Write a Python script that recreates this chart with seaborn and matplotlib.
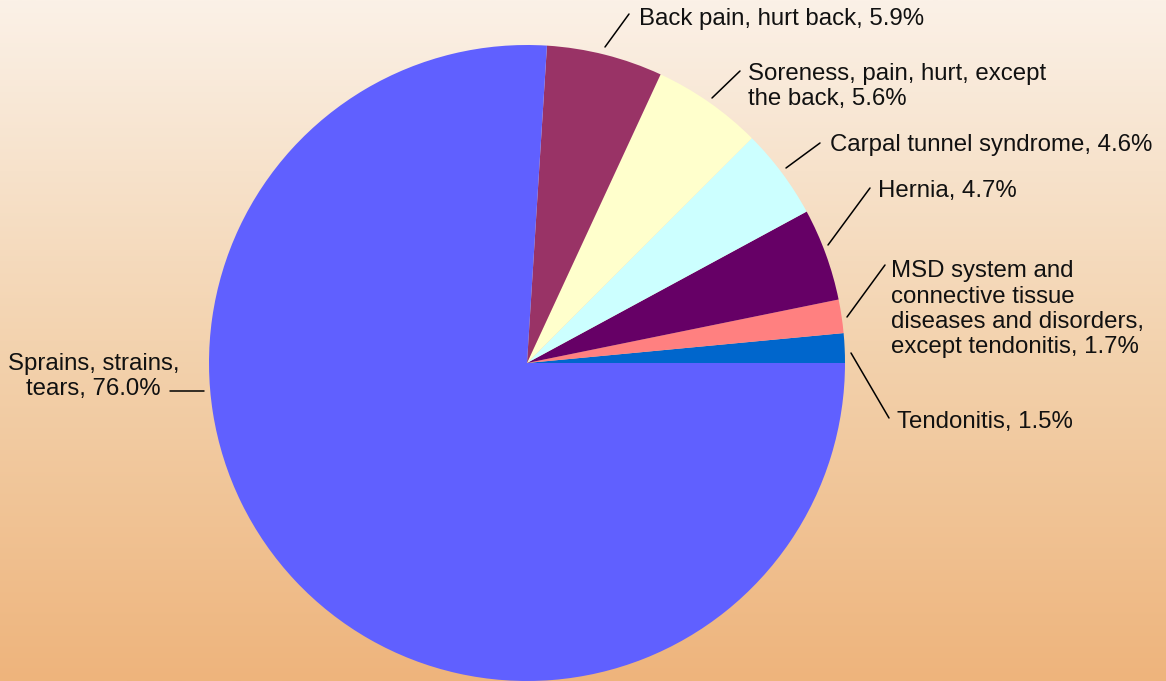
import numpy as np
import matplotlib
matplotlib.use("Agg")
import matplotlib.pyplot as plt
import seaborn as sns
from matplotlib.colors import LinearSegmentedColormap

# ---- data ----
categories = [
    "Tendonitis",
    "MSD system and\nconnective tissue\ndiseases and disorders,\nexcept tendonitis",
    "Hernia",
    "Carpal tunnel syndrome",
    "Soreness, pain, hurt, except\nthe back",
    "Back pain, hurt back",
    "Sprains, strains,\ntears",
]
values = [1.5, 1.7, 4.7, 4.6, 5.6, 5.9, 76.0]
colors = ["#0066CC", "#FF8080", "#660066", "#CCFFFF", "#FFFFCC", "#993366", "#6060FF"]

# ---- layout (pixel coords, y down): text anchor (last-line baseline), leader start, leader end ----
label_layout = [
    dict(tx=897, ty=428, ha="left", ls=(851, 353), le=(889, 418)),
    dict(tx=891, ty=353, ha="left", ls=(847, 317), le=(885, 265)),
    dict(tx=878, ty=197, ha="left", ls=(828, 245), le=(870, 188)),
    dict(tx=830, ty=151, ha="left", ls=(786, 168), le=(820, 143)),
    dict(tx=748, ty=105, ha="left", ls=(712, 98), le=(740, 71)),
    dict(tx=639, ty=25, ha="left", ls=(605, 47), le=(629, 14)),
    dict(tx=179, ty=395, ha="right", ls=(204, 391), le=(170, 391)),
]

W, H = 1166, 681
sns.set_style("white")
plt.rcParams["font.family"] = ["Liberation Sans", "DejaVu Sans"]

fig = plt.figure(figsize=(W / 100, H / 100), dpi=100)

# background gradient
bg = fig.add_axes([0, 0, 1, 1])
cmap = LinearSegmentedColormap.from_list("bg", ["#FBF1E7", "#F3D3AF", "#EEB47C"])
grad = np.linspace(0, 1, 256).reshape(-1, 1)
bg.imshow(grad, aspect="auto", cmap=cmap, extent=[0, 1, 0, 1], origin="upper")
bg.set_axis_off()

ax = fig.add_axes([0, 0, 1, 1])
ax.set_facecolor("none")
ax.patch.set_alpha(0)

ax.pie(values, colors=colors, startangle=0, counterclock=False,
       center=(527, 363), radius=318,
       wedgeprops=dict(linewidth=0, antialiased=True))
ax.set_xlim(0, W)
ax.set_ylim(H, 0)
ax.set_aspect("equal")
ax.set_axis_off()

for cat, val, lay in zip(categories, values, label_layout):
    txt = f"{cat}, {val:.1f}%"
    ax.text(lay["tx"], lay["ty"], txt, ha=lay["ha"], va="baseline",
            multialignment="center" if lay["ha"] == "right" else "left",
            fontsize=17.3, color="#111111", linespacing=1.19)
    ax.annotate("", xy=lay["ls"], xytext=lay["le"],
                arrowprops=dict(arrowstyle="-", lw=1.1, color="black",
                                shrinkA=0, shrinkB=0))

fig.savefig("out.png", dpi=100)
